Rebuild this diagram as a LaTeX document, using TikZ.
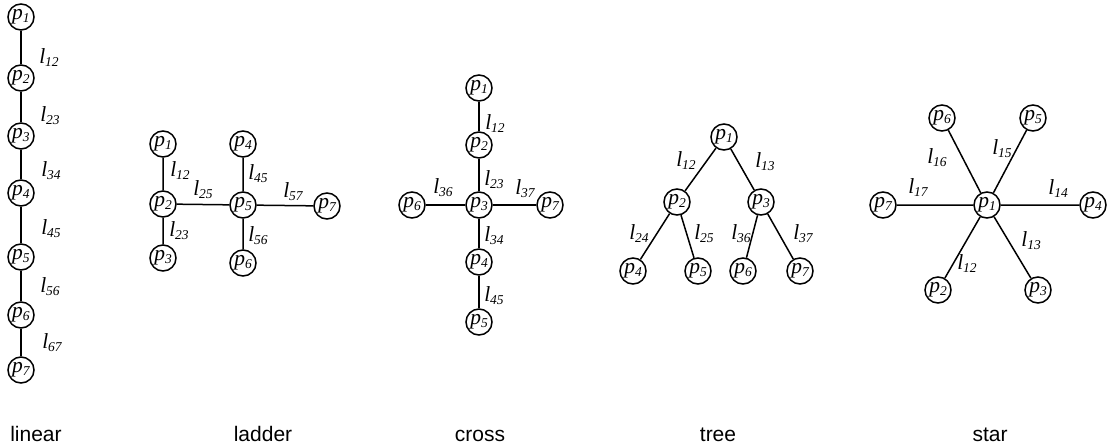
\documentclass[tikz,border=0pt]{standalone}
\usepackage{fontspec}
\setmainfont{Liberation Serif}
\newfontfamily\capfont{Liberation Sans}
\newcommand{\pnd}[1]{p\raisebox{-0.3ex}{\fontsize{13.5}{14}\selectfont #1}}
\newcommand{\lnd}[1]{l\raisebox{-0.3ex}{\fontsize{13.5}{14}\selectfont #1}}
\begin{document}
\begin{tikzpicture}[x=1pt,y=-1pt,
  pn/.style={circle,draw,line width=1.5pt,minimum size=26pt,inner sep=0pt,font=\fontsize{21.5}{22}\selectfont\itshape},
  el/.style={inner sep=0pt,font=\fontsize{21.5}{22}\selectfont\itshape},
  captxt/.style={inner sep=0pt,anchor=base,font=\capfont\fontsize{21}{21}\selectfont},
  conn/.style={line width=1.5pt}]
\useasboundingbox (0,0) rectangle (1108,445);
% linear
\node[pn] (L1) at (21,17) {\pnd{1}};
\node[pn] (L2) at (21,78) {\pnd{2}};
\node[pn] (L3) at (21,136) {\pnd{3}};
\node[pn] (L4) at (21,193) {\pnd{4}};
\node[pn] (L5) at (21,257) {\pnd{5}};
\node[pn] (L6) at (21,315) {\pnd{6}};
\node[pn] (L7) at (21,370) {\pnd{7}};
\draw[conn] (L1)--(L2) (L2)--(L3) (L3)--(L4) (L4)--(L5) (L5)--(L6) (L6)--(L7);
\node[el] (Ll12) at (49,58) {\lnd{12}};
\node[el] (Ll23) at (50,116) {\lnd{23}};
\node[el] (Ll34) at (51,171) {\lnd{34}};
\node[el] (Ll45) at (51,229) {\lnd{45}};
\node[el] (Ll56) at (50,287) {\lnd{56}};
\node[el] (Ll67) at (52,343) {\lnd{67}};
\node[captxt] (capL) at (36,441) {linear};
% ladder
\node[pn] (A1) at (163,144) {\pnd{1}};
\node[pn] (A2) at (163,204) {\pnd{2}};
\node[pn] (A3) at (163,258) {\pnd{3}};
\node[pn] (A4) at (243,144) {\pnd{4}};
\node[pn] (A5) at (243,205) {\pnd{5}};
\node[pn] (A6) at (243,263) {\pnd{6}};
\node[pn] (A7) at (327,206) {\pnd{7}};
\draw[conn] (A1)--(A2) (A2)--(A3) (A2)--(A5) (A4)--(A5) (A5)--(A6) (A5)--(A7);
\node[el] (Al12) at (180,171) {\lnd{12}};
\node[el] (Al23) at (179,231) {\lnd{23}};
\node[el] (Al25) at (203,190) {\lnd{25}};
\node[el] (Al45) at (258,174) {\lnd{45}};
\node[el] (Al56) at (258,236) {\lnd{56}};
\node[el] (Al57) at (293,192) {\lnd{57}};
\node[captxt] (capA) at (263,441) {ladder};
% cross
\node[pn] (C1) at (479,88) {\pnd{1}};
\node[pn] (C2) at (479,145) {\pnd{2}};
\node[pn] (C3) at (479,205) {\pnd{3}};
\node[pn] (C6) at (412,205) {\pnd{6}};
\node[pn] (C7) at (550,205) {\pnd{7}};
\node[pn] (C4) at (479,262) {\pnd{4}};
\node[pn] (C5) at (479,322) {\pnd{5}};
\draw[conn] (C1)--(C2) (C2)--(C3) (C3)--(C6) (C3)--(C7) (C3)--(C4) (C4)--(C5);
\node[el] (Cl12) at (495,124) {\lnd{12}};
\node[el] (Cl23) at (494,180) {\lnd{23}};
\node[el] (Cl36) at (443,188) {\lnd{36}};
\node[el] (Cl37) at (525,189) {\lnd{37}};
\node[el] (Cl34) at (494,236) {\lnd{34}};
\node[el] (Cl45) at (494,296) {\lnd{45}};
\node[captxt] (capC) at (480,441) {cross};
% tree
\node[pn] (T1) at (724,137) {\pnd{1}};
\node[pn] (T2) at (677,202) {\pnd{2}};
\node[pn] (T3) at (761,202) {\pnd{3}};
\node[pn] (T4) at (633,271) {\pnd{4}};
\node[pn] (T5) at (698,271) {\pnd{5}};
\node[pn] (T6) at (743,271) {\pnd{6}};
\node[pn] (T7) at (800,271) {\pnd{7}};
\draw[conn] (T1)--(T2) (T1)--(T3) (T2)--(T4) (T2)--(T5) (T3)--(T6) (T3)--(T7);
\node[el] (Tl12) at (686,161) {\lnd{12}};
\node[el] (Tl13) at (765,162) {\lnd{13}};
\node[el] (Tl24) at (639,234) {\lnd{24}};
\node[el] (Tl25) at (704,234) {\lnd{25}};
\node[el] (Tl36) at (741,234) {\lnd{36}};
\node[el] (Tl37) at (803,234) {\lnd{37}};
\node[captxt] (capT) at (718,441) {tree};
% star
\node[pn] (S1) at (987,205) {\pnd{1}};
\node[pn] (S6) at (942,118) {\pnd{6}};
\node[pn] (S5) at (1033,118) {\pnd{5}};
\node[pn] (S7) at (883,205) {\pnd{7}};
\node[pn] (S4) at (1093,205) {\pnd{4}};
\node[pn] (S2) at (938,290) {\pnd{2}};
\node[pn] (S3) at (1038,290) {\pnd{3}};
\draw[conn] (S1)--(S6) (S1)--(S5) (S1)--(S7) (S1)--(S4) (S1)--(S2) (S1)--(S3);
\node[el] (Sl16) at (937,158) {\lnd{16}};
\node[el] (Sl15) at (1002,149) {\lnd{15}};
\node[el] (Sl17) at (918,188) {\lnd{17}};
\node[el] (Sl14) at (1058,189) {\lnd{14}};
\node[el] (Sl13) at (1031,241) {\lnd{13}};
\node[el] (Sl12) at (967,264) {\lnd{12}};
\node[captxt] (capS) at (990,441) {star};
\end{tikzpicture}
\end{document}
